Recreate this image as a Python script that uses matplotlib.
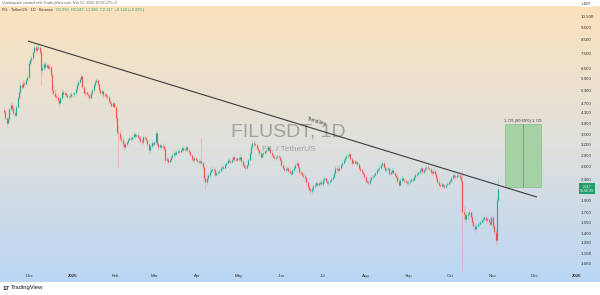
import numpy as np
import matplotlib
matplotlib.use("Agg")
import matplotlib.pyplot as plt
from matplotlib.ticker import NullLocator, FixedLocator
from matplotlib.patches import Rectangle
import matplotlib.transforms as mtransforms

# ---------------- data (daily candles, Nov 12 2024 -> Nov 05 2025) ----------------
first_open = 4.40
close_nov24 = [4.35, 4.10, 3.92, 4.05, 4.45, 4.62, 4.50, 4.30, 4.21, 4.55, 4.93, 5.20, 5.57, 5.45, 5.68, 5.60, 5.85, 5.98, 6.84]
high_nov24 = [4.52, 4.42, 4.18, 4.12, 4.55, 4.75, 4.70, 4.58, 4.38, 4.62, 5.05, 5.35, 5.75, 5.70, 5.85, 5.80, 5.95, 6.10, 7.00]
low_nov24 = [4.25, 4.02, 3.80, 3.88, 4.00, 4.38, 4.42, 4.22, 4.12, 4.15, 4.48, 4.85, 5.12, 5.35, 5.40, 5.48, 5.55, 5.78, 5.90]

close_dec24 = [7.05, 7.16, 7.55, 7.93, 7.70, 7.85, 7.90, 7.60, 6.40, 6.55, 6.80, 6.60, 6.70, 6.55, 6.60, 6.10, 5.30, 5.17, 5.05, 4.96, 4.85, 4.73, 4.95, 5.22, 5.10, 5.15, 5.06, 5.00, 4.96, 5.05, 5.12]
high_dec24 = [7.25, 7.35, 7.70, 8.15, 8.10, 8.05, 8.20, 7.95, 7.70, 6.75, 6.95, 6.90, 6.85, 6.80, 6.75, 6.70, 6.20, 5.50, 5.35, 5.15, 5.10, 4.95, 5.05, 5.35, 5.30, 5.25, 5.20, 5.12, 5.08, 5.15, 5.20]
low_dec24 = [6.70, 6.85, 7.05, 7.45, 7.50, 7.60, 7.70, 7.45, 5.57, 6.20, 6.40, 6.45, 6.50, 6.45, 6.40, 6.00, 5.10, 5.05, 4.92, 4.85, 4.72, 4.55, 4.68, 4.90, 5.00, 5.02, 4.98, 4.92, 4.88, 4.90, 4.98]

close_jan25 = [5.10, 5.17, 5.35, 5.55, 5.73, 5.90, 6.03, 5.45, 5.17, 5.20, 5.12, 5.06, 4.95, 5.17, 5.30, 5.55, 5.73, 5.83, 5.60, 5.30, 5.17, 5.25, 5.06, 5.10, 5.02, 4.96, 4.80, 4.73, 4.60, 4.70, 4.55]
high_jan25 = [5.20, 5.25, 5.45, 5.65, 5.82, 6.00, 6.15, 6.08, 5.55, 5.30, 5.28, 5.20, 5.12, 5.25, 5.40, 5.65, 5.85, 5.95, 5.90, 5.65, 5.40, 5.35, 5.30, 5.18, 5.15, 5.08, 5.02, 4.88, 4.82, 4.78, 4.75]
low_jan25 = [5.00, 5.02, 5.10, 5.28, 5.48, 5.65, 5.82, 5.38, 5.05, 5.08, 5.05, 4.98, 4.80, 4.90, 5.10, 5.25, 5.48, 5.65, 5.50, 5.22, 5.08, 5.10, 5.00, 5.00, 4.95, 4.90, 4.72, 4.65, 4.52, 4.55, 4.48]

close_feb25 = [4.10, 3.60, 3.57, 3.40, 3.34, 3.20, 3.12, 3.20, 3.27, 3.35, 3.40, 3.38, 3.44, 3.52, 3.45, 3.50, 3.42, 3.40, 3.30, 3.27, 3.44, 3.40, 3.34, 3.20, 3.03, 3.15, 3.24, 3.22]
high_feb25 = [4.62, 4.20, 3.80, 3.65, 3.48, 3.42, 3.28, 3.26, 3.32, 3.40, 3.48, 3.46, 3.50, 3.60, 3.58, 3.56, 3.55, 3.48, 3.45, 3.36, 3.50, 3.50, 3.45, 3.38, 3.25, 3.20, 3.30, 3.30]
low_feb25 = [4.00, 3.50, 2.59, 3.30, 3.25, 3.12, 3.05, 3.08, 3.15, 3.22, 3.30, 3.32, 3.34, 3.40, 3.40, 3.42, 3.38, 3.35, 3.25, 3.20, 3.22, 3.35, 3.30, 3.15, 2.95, 2.98, 3.10, 3.15]

close_mar25 = [3.27, 3.57, 3.20, 3.12, 3.18, 3.12, 3.15, 3.08, 2.77, 2.80, 2.72, 2.78, 2.84, 2.90, 2.96, 2.93, 2.99, 3.02, 2.98, 3.05, 3.10, 3.05, 3.08, 3.12, 3.05, 2.99, 2.90, 2.80, 2.77, 2.82, 2.77]
high_mar25 = [3.32, 3.65, 3.60, 3.28, 3.25, 3.22, 3.22, 3.20, 3.12, 2.88, 2.85, 2.82, 2.90, 2.95, 3.02, 3.00, 3.05, 3.08, 3.06, 3.10, 3.15, 3.14, 3.12, 3.18, 3.15, 3.08, 3.02, 2.94, 2.86, 2.88, 2.86]
low_mar25 = [3.15, 3.22, 3.15, 3.05, 3.06, 3.06, 3.08, 3.02, 2.72, 2.70, 2.66, 2.68, 2.74, 2.80, 2.86, 2.88, 2.90, 2.95, 2.94, 2.96, 3.00, 3.02, 3.00, 3.04, 3.02, 2.95, 2.86, 2.75, 2.72, 2.74, 2.74]

close_apr25 = [2.75, 2.72, 2.74, 2.70, 2.60, 2.34, 2.26, 2.35, 2.41, 2.48, 2.52, 2.55, 2.52, 2.41, 2.45, 2.47, 2.50, 2.56, 2.60, 2.58, 2.64, 2.70, 2.77, 2.74, 2.72, 2.78, 2.84, 2.80, 2.77, 2.82]
high_apr25 = [2.82, 2.80, 2.80, 3.40, 2.74, 2.65, 2.40, 2.40, 2.46, 2.55, 2.58, 2.62, 2.60, 2.56, 2.50, 2.52, 2.55, 2.62, 2.65, 2.64, 2.68, 2.75, 2.82, 2.82, 2.78, 2.82, 2.90, 2.88, 2.84, 2.86]
low_apr25 = [2.70, 2.68, 2.68, 2.65, 2.55, 2.28, 2.12, 2.20, 2.30, 2.36, 2.44, 2.48, 2.45, 2.36, 2.38, 2.42, 2.44, 2.48, 2.52, 2.52, 2.55, 2.60, 2.66, 2.70, 2.68, 2.68, 2.76, 2.75, 2.72, 2.74]

close_may25 = [2.80, 2.86, 2.75, 2.64, 2.60, 2.58, 2.65, 2.77, 2.95, 3.12, 3.24, 3.20, 3.18, 3.10, 3.03, 2.95, 2.86, 2.92, 2.96, 3.00, 3.03, 3.12, 3.05, 2.96, 2.90, 2.86, 2.82, 2.84, 2.88, 2.86, 2.78]
high_may25 = [2.88, 2.92, 2.90, 2.80, 2.70, 2.66, 2.70, 2.82, 3.00, 3.18, 3.32, 3.34, 3.28, 3.24, 3.15, 3.08, 3.00, 2.96, 3.00, 3.05, 3.08, 3.18, 3.16, 3.10, 3.00, 2.95, 2.92, 2.90, 2.92, 2.92, 2.90]
low_may25 = [2.74, 2.76, 2.70, 2.60, 2.56, 2.52, 2.55, 2.62, 2.74, 2.90, 3.08, 3.14, 3.12, 3.05, 2.98, 2.90, 2.80, 2.82, 2.88, 2.92, 2.96, 3.00, 3.00, 2.92, 2.85, 2.82, 2.78, 2.78, 2.80, 2.82, 2.74]

close_jun25 = [2.64, 2.58, 2.52, 2.55, 2.56, 2.50, 2.46, 2.44, 2.52, 2.58, 2.65, 2.70, 2.60, 2.47, 2.45, 2.41, 2.38, 2.34, 2.25, 2.15, 2.12, 2.07, 2.12, 2.18, 2.20, 2.23, 2.20, 2.23, 2.26, 2.22]
high_jun25 = [2.82, 2.70, 2.62, 2.60, 2.62, 2.60, 2.54, 2.50, 2.56, 2.62, 2.70, 2.75, 2.74, 2.64, 2.52, 2.50, 2.45, 2.42, 2.38, 2.28, 2.20, 2.16, 2.16, 2.22, 2.25, 2.28, 2.27, 2.27, 2.30, 2.30]
low_jun25 = [2.60, 2.54, 2.48, 2.48, 2.50, 2.46, 2.42, 2.40, 2.40, 2.48, 2.54, 2.62, 2.56, 2.42, 2.40, 2.36, 2.34, 2.28, 2.20, 2.10, 2.05, 2.00, 2.02, 2.08, 2.14, 2.16, 2.16, 2.17, 2.20, 2.18]

close_jul25 = [2.30, 2.34, 2.28, 2.23, 2.26, 2.28, 2.32, 2.37, 2.45, 2.56, 2.54, 2.52, 2.58, 2.64, 2.70, 2.77, 2.82, 2.88, 2.90, 2.93, 2.80, 2.70, 2.74, 2.70, 2.72, 2.66, 2.56, 2.52, 2.48, 2.44, 2.36]
high_jul25 = [2.35, 2.38, 2.37, 2.32, 2.30, 2.33, 2.36, 2.42, 2.50, 2.62, 2.64, 2.60, 2.64, 2.70, 2.76, 2.82, 2.88, 2.94, 2.96, 3.00, 2.98, 2.85, 2.80, 2.78, 2.78, 2.76, 2.70, 2.62, 2.58, 2.53, 2.48]
low_jul25 = [2.18, 2.26, 2.25, 2.20, 2.19, 2.22, 2.25, 2.28, 2.34, 2.42, 2.48, 2.47, 2.48, 2.55, 2.60, 2.66, 2.72, 2.78, 2.83, 2.86, 2.76, 2.62, 2.66, 2.66, 2.66, 2.62, 2.52, 2.48, 2.44, 2.40, 2.32]

close_aug25 = [2.28, 2.25, 2.23, 2.30, 2.37, 2.38, 2.41, 2.46, 2.52, 2.55, 2.58, 2.64, 2.70, 2.60, 2.52, 2.54, 2.56, 2.44, 2.48, 2.52, 2.45, 2.40, 2.37, 2.28, 2.20, 2.30, 2.34, 2.30, 2.28, 2.25, 2.23]
high_aug25 = [2.40, 2.33, 2.30, 2.34, 2.41, 2.43, 2.45, 2.50, 2.57, 2.60, 2.64, 2.70, 2.76, 2.74, 2.64, 2.60, 2.62, 2.60, 2.52, 2.56, 2.56, 2.50, 2.44, 2.42, 2.32, 2.34, 2.38, 2.38, 2.34, 2.32, 2.29]
low_aug25 = [2.24, 2.22, 2.19, 2.20, 2.27, 2.33, 2.35, 2.38, 2.43, 2.48, 2.51, 2.54, 2.60, 2.56, 2.48, 2.48, 2.50, 2.40, 2.41, 2.44, 2.42, 2.36, 2.34, 2.24, 2.15, 2.18, 2.26, 2.26, 2.24, 2.21, 2.19]

close_sep25 = [2.26, 2.28, 2.32, 2.30, 2.36, 2.41, 2.44, 2.47, 2.52, 2.56, 2.47, 2.52, 2.56, 2.60, 2.58, 2.54, 2.47, 2.45, 2.50, 2.44, 2.34, 2.25, 2.20, 2.18, 2.21, 2.18, 2.16, 2.20, 2.22, 2.25]
high_sep25 = [2.30, 2.32, 2.36, 2.36, 2.40, 2.45, 2.48, 2.52, 2.56, 2.62, 2.60, 2.55, 2.60, 2.64, 2.65, 2.62, 2.58, 2.52, 2.54, 2.54, 2.47, 2.38, 2.29, 2.24, 2.25, 2.24, 2.22, 2.24, 2.26, 2.29]
low_sep25 = [2.19, 2.22, 2.25, 2.26, 2.27, 2.32, 2.38, 2.40, 2.43, 2.48, 2.44, 2.44, 2.48, 2.52, 2.54, 2.50, 2.44, 2.41, 2.42, 2.40, 2.30, 2.21, 2.16, 2.14, 2.15, 2.14, 2.12, 2.14, 2.17, 2.19]

close_oct25 = [2.28, 2.35, 2.41, 2.38, 2.37, 2.40, 2.41, 2.36, 2.28, 1.71, 1.68, 1.60, 1.66, 1.68, 1.71, 1.62, 1.55, 1.50, 1.46, 1.50, 1.52, 1.53, 1.55, 1.58, 1.60, 1.62, 1.58, 1.60, 1.56, 1.53, 1.62]
high_oct25 = [2.32, 2.39, 2.46, 2.45, 2.42, 2.44, 2.46, 2.44, 2.40, 2.50, 1.80, 1.76, 1.70, 1.72, 1.76, 1.74, 1.66, 1.58, 1.54, 1.54, 1.56, 1.57, 1.59, 1.62, 1.64, 1.66, 1.66, 1.63, 1.63, 1.60, 1.66]
low_oct25 = [2.22, 2.24, 2.31, 2.34, 2.33, 2.34, 2.36, 2.32, 2.24, 0.85, 1.58, 1.55, 1.56, 1.60, 1.64, 1.58, 1.50, 1.44, 1.40, 1.44, 1.48, 1.49, 1.51, 1.53, 1.56, 1.57, 1.54, 1.55, 1.52, 1.49, 1.50]

close_nov25 = [1.50, 1.42, 1.31, 1.90, 2.117]
high_nov25 = [1.66, 1.54, 1.46, 1.95, 2.37]
low_nov25 = [1.46, 1.38, 1.25, 1.28, 1.88]

# month tick labels (day index from Nov 12 2024)
month_labels = ["Dec", "2025", "Feb", "Mar", "Apr", "May", "Jun", "Jul", "Aug", "Sep", "Oct", "Nov", "Dec", "2026"]
month_days = [19, 50, 81, 109, 140, 170, 201, 231, 262, 293, 323, 354, 384, 415]

price_ticks = [10.5, 9.5, 8.5, 7.5, 6.5, 5.9, 5.3, 4.7, 4.3, 3.9, 3.5, 3.2, 2.9, 2.6, 2.3, 1.9, 1.7, 1.55, 1.4, 1.28, 1.16, 1.06]

# trendline & long-position box
trend_days = [17.5, 386.0]
trend_prices = [8.39, 1.96]
box_days = [362.7, 388.8]
box_prices = [2.15, 3.87]
last_price = 2.117

# ---------------- assemble ----------------
closes = np.array(close_nov24 + close_dec24 + close_jan25 + close_feb25 + close_mar25 + close_apr25 +
                  close_may25 + close_jun25 + close_jul25 + close_aug25 + close_sep25 + close_oct25 + close_nov25)
highs = np.array(high_nov24 + high_dec24 + high_jan25 + high_feb25 + high_mar25 + high_apr25 +
                 high_may25 + high_jun25 + high_jul25 + high_aug25 + high_sep25 + high_oct25 + high_nov25)
lows = np.array(low_nov24 + low_dec24 + low_jan25 + low_feb25 + low_mar25 + low_apr25 +
                low_may25 + low_jun25 + low_jul25 + low_aug25 + low_sep25 + low_oct25 + low_nov25)
opens = np.concatenate([[first_open], closes[:-1]])
days = np.arange(len(closes))
highs = np.maximum(highs, np.maximum(opens, closes))
lows = np.minimum(lows, np.minimum(opens, closes))

W, H = 600, 295
fig = plt.figure(figsize=(W / 100, H / 100), dpi=100)
fig.patch.set_facecolor("white")
plt.rcParams["font.family"] = ["Liberation Sans", "DejaVu Sans"]

# gradient background
bg = fig.add_axes([0, (H - 282) / H, 1, (282 - 6) / H])
top = np.array([251, 226, 188]) / 255
mid = np.array([224, 224, 220]) / 255
bot = np.array([186, 214, 245]) / 255
t = np.linspace(0, 1, 256)[:, None]
grad = np.where(t < 0.5, top + (mid - top) * (t / 0.5), mid + (bot - mid) * ((t - 0.5) / 0.5))
bg.imshow(grad[:, None, :].repeat(2, axis=1), aspect="auto", extent=[0, 1, 0, 1])
bg.set_axis_off()

PL, PR, PT, PB = 0, 577, 12, 271
ax = fig.add_axes([PL / W, (H - PB) / H, (PR - PL) / W, (PB - PT) / H])
ax.set_facecolor("none")
ax.set_yscale("log")
d_per_px = 1 / 1.382
x0 = 19 - 30 * d_per_px
x1 = 19 + (PR - 30) * d_per_px
ax.set_xlim(x0, x1)
ymax = np.exp(2.351 - (PT - 17) / 107.3)
ymin = np.exp(2.351 - (PB - 17) / 107.3)
ax.set_ylim(ymin, ymax)

up = closes >= opens
gc, rc = "#26a69a", "#ef5350"
gw, rw = "#8fd0c6", "#f4a2a5"
ax.vlines(days[up], lows[up], highs[up], color=gw, lw=0.45, zorder=2)
ax.vlines(days[~up], lows[~up], highs[~up], color=rw, lw=0.45, zorder=2)
bt = np.maximum(opens, closes)
bb = np.minimum(opens, closes)
ax.vlines(days[up], bb[up], bt[up], color=gc, lw=0.85, zorder=3)
ax.vlines(days[~up], bb[~up], bt[~up], color=rc, lw=0.85, zorder=3)

# trendline
ax.plot(trend_days, trend_prices, color="#3b3b3b", lw=0.8, zorder=4, solid_capstyle="butt")
ang = np.degrees(np.arctan2(-(197 - 41), (537 - 28)))
ax.text(226, 3.88, "Trendline", fontsize=3.4, color="#444444", rotation=ang,
        rotation_mode="anchor", ha="center", va="bottom", zorder=5)

# long position box
ax.add_patch(Rectangle((box_days[0], box_prices[0]), box_days[1] - box_days[0], box_prices[1] - box_prices[0],
                       facecolor="#9fd09f", edgecolor="#7dbd7d", lw=0.5, alpha=0.9, zorder=1))
bc = (box_days[0] + box_days[1]) / 2
ax.vlines([bc], box_prices[0], box_prices[1], color="#6f9f78", lw=0.6, zorder=2)
ax.text(bc, box_prices[1] * 1.012, "1.725 (80.69%) 1,725", fontsize=2.8, color="#333333",
        ha="center", va="bottom", zorder=5)

# watermark
ax.text(0.5, 0.535, "FILUSDT, 1D", transform=ax.transAxes, fontsize=14, color="#8c8c8c",
        alpha=0.75, ha="center", va="center", zorder=0.5)
ax.text(0.5, 0.47, "FIL / TetherUS", transform=ax.transAxes, fontsize=6, color="#8c8c8c",
        alpha=0.75, ha="center", va="center", zorder=0.5)

# axes styling
for s in ax.spines.values():
    s.set_visible(False)
ax.yaxis.tick_right()
ax.yaxis.set_minor_locator(NullLocator())
ax.yaxis.set_major_locator(FixedLocator(price_ticks))
ax.set_yticklabels([f"{v:.3f}" for v in price_ticks])
ax.tick_params(axis="y", length=0, pad=2.5, labelsize=3.2, labelcolor="#333333")
ax.set_xticks(month_days)
ax.set_xticklabels(month_labels)
ax.tick_params(axis="x", length=0, pad=2.5, labelsize=3.2, labelcolor="#333333")
for lbl in ax.get_xticklabels():
    if lbl.get_text() in ("2025", "2026"):
        lbl.set_fontweight("bold")

# last price label
trans = mtransforms.blended_transform_factory(fig.transFigure, ax.transData)
ax.text(587 / W, last_price, "2.117\n15:56:39", transform=trans, fontsize=2.6, color="white",
        ha="center", va="center", linespacing=1.1,
        bbox=dict(boxstyle="square,pad=0.35", facecolor="#22a06b", edgecolor="none"), zorder=6,
        clip_on=False)

# USDT label
fig.text(587 / W, 1 - 4 / H, "USDT", fontsize=2.6, color="#333333", ha="center", va="center",
         bbox=dict(boxstyle="square,pad=0.3", facecolor="white", edgecolor="none"))

# header
fig.text(2 / W, 1 - 3 / H, "Quackquack created with TradingView.com, Nov 05, 2025 10:03 UTC+0",
         fontsize=2.6, color="#666666", ha="left", va="center")
fig.text(2 / W, 1 - 10 / H, "FIL · TetherUS · 1D · Binance", fontsize=2.8, color="#333333",
         ha="left", va="center")
fig.text(56 / W, 1 - 10 / H, "O1.993  H2.243  L1.983  C2.117  +0.124 (+6.22%)", fontsize=2.8,
         color="#22a06b", ha="left", va="center")

# footer logo
fig.text(3 / W, 1 - 288 / H, "17", fontsize=4.5, fontweight="bold", color="#131722", ha="left", va="center")
fig.text(11 / W, 1 - 288 / H, "TradingView", fontsize=4.2, color="#131722", ha="left", va="center")

fig.savefig("out.png", dpi=100, facecolor=fig.get_facecolor())
